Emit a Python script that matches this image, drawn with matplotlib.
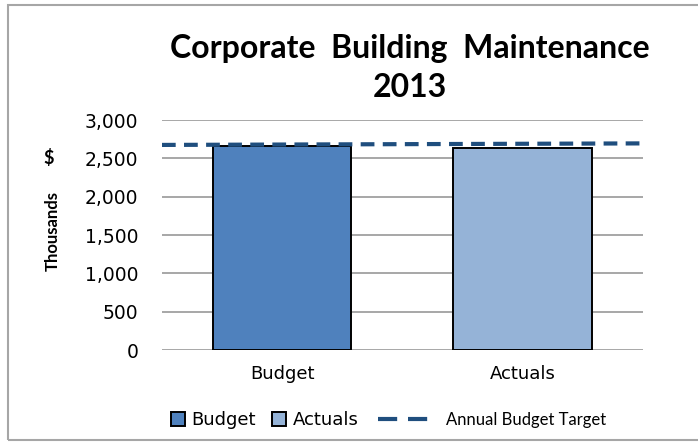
import matplotlib
matplotlib.use("Agg")
import matplotlib.pyplot as plt
from matplotlib.patches import Rectangle

# chart data (thousands of $)
categories = ["Budget", "Actuals"]
spend = [2660, 2630]
target_x = [-0.5, 1.5]
target_vals = [2675, 2695]
yticks = [0, 500, 1000, 1500, 2000, 2500, 3000]

bar_colors = ["#4F81BD", "#95B3D7"]
target_color = "#1F4E7E"

fig = plt.figure(figsize=(6.98, 4.42), dpi=100)
ax = fig.add_axes([0.232, 0.208, 0.689, 0.5205])

# outer chart border
fig.add_artist(Rectangle((8 / 698, 0.004), 0.99, 1 - 5 / 442 - 0.004,
                         transform=fig.transFigure, fill=False,
                         edgecolor="#A6A6A6", linewidth=1.5))

xs = range(len(categories))
bars = ax.bar(xs, spend, width=0.575, color=bar_colors,
              edgecolor="black", linewidth=1.4, zorder=2)
line, = ax.plot(target_x, target_vals, color=target_color, linewidth=3,
                dashes=(3.3, 2.0), zorder=3)

ax.set_xlim(-0.5, 1.5)
ax.set_ylim(0, 3000)
ax.set_yticks(yticks)
ax.set_yticklabels([f"{v:,}" for v in yticks])
ax.set_xticks(list(xs))
ax.set_xticklabels(categories)
ax.tick_params(axis="y", length=0, pad=17, labelsize=13.5)
ax.tick_params(axis="x", length=0, pad=11, labelsize=13)
ax.grid(axis="y", color="#A0A0A0", linewidth=1.3, zorder=0)
for s in ax.spines.values():
    s.set_visible(False)

fig.text(410 / 698, 1 - 68 / 442, "Corporate  Building  Maintenance\n2013",
         ha="center", va="center", fontsize=23, fontweight="bold",
         family="Lato", linespacing=1.45)
fig.text(53 / 698, 1 - 231 / 442, "Thousands", rotation=90, ha="center",
         va="center", fontsize=12, fontweight="bold", family="Lato")
fig.text(49 / 698, 1 - 158 / 442, "$", ha="center", va="center",
         fontsize=13, fontweight="bold", family="Lato")

leg1 = fig.legend([bars[0], bars[1]], ["Budget", "Actuals"],
                  loc="center left", bbox_to_anchor=(171 / 698, 1 - 420 / 442),
                  ncol=2, frameon=False, fontsize=13, handlelength=0.78,
                  handleheight=0.78, handletextpad=0.35, columnspacing=0.9,
                  borderpad=0, borderaxespad=0)
leg2 = fig.legend([line], ["Annual Budget Target"],
                  loc="center left", bbox_to_anchor=(378 / 698, 1 - 420 / 442),
                  frameon=False, fontsize=12, handlelength=3.5,
                  handletextpad=0.55, borderpad=0, borderaxespad=0)
leg2.legend_handles[0].set_dashes((4.6, 2.6))
leg2.legend_handles[0].set_linewidth(3)
leg2.get_texts()[0].set_family("Lato")

fig.savefig("out.png", dpi=100)
